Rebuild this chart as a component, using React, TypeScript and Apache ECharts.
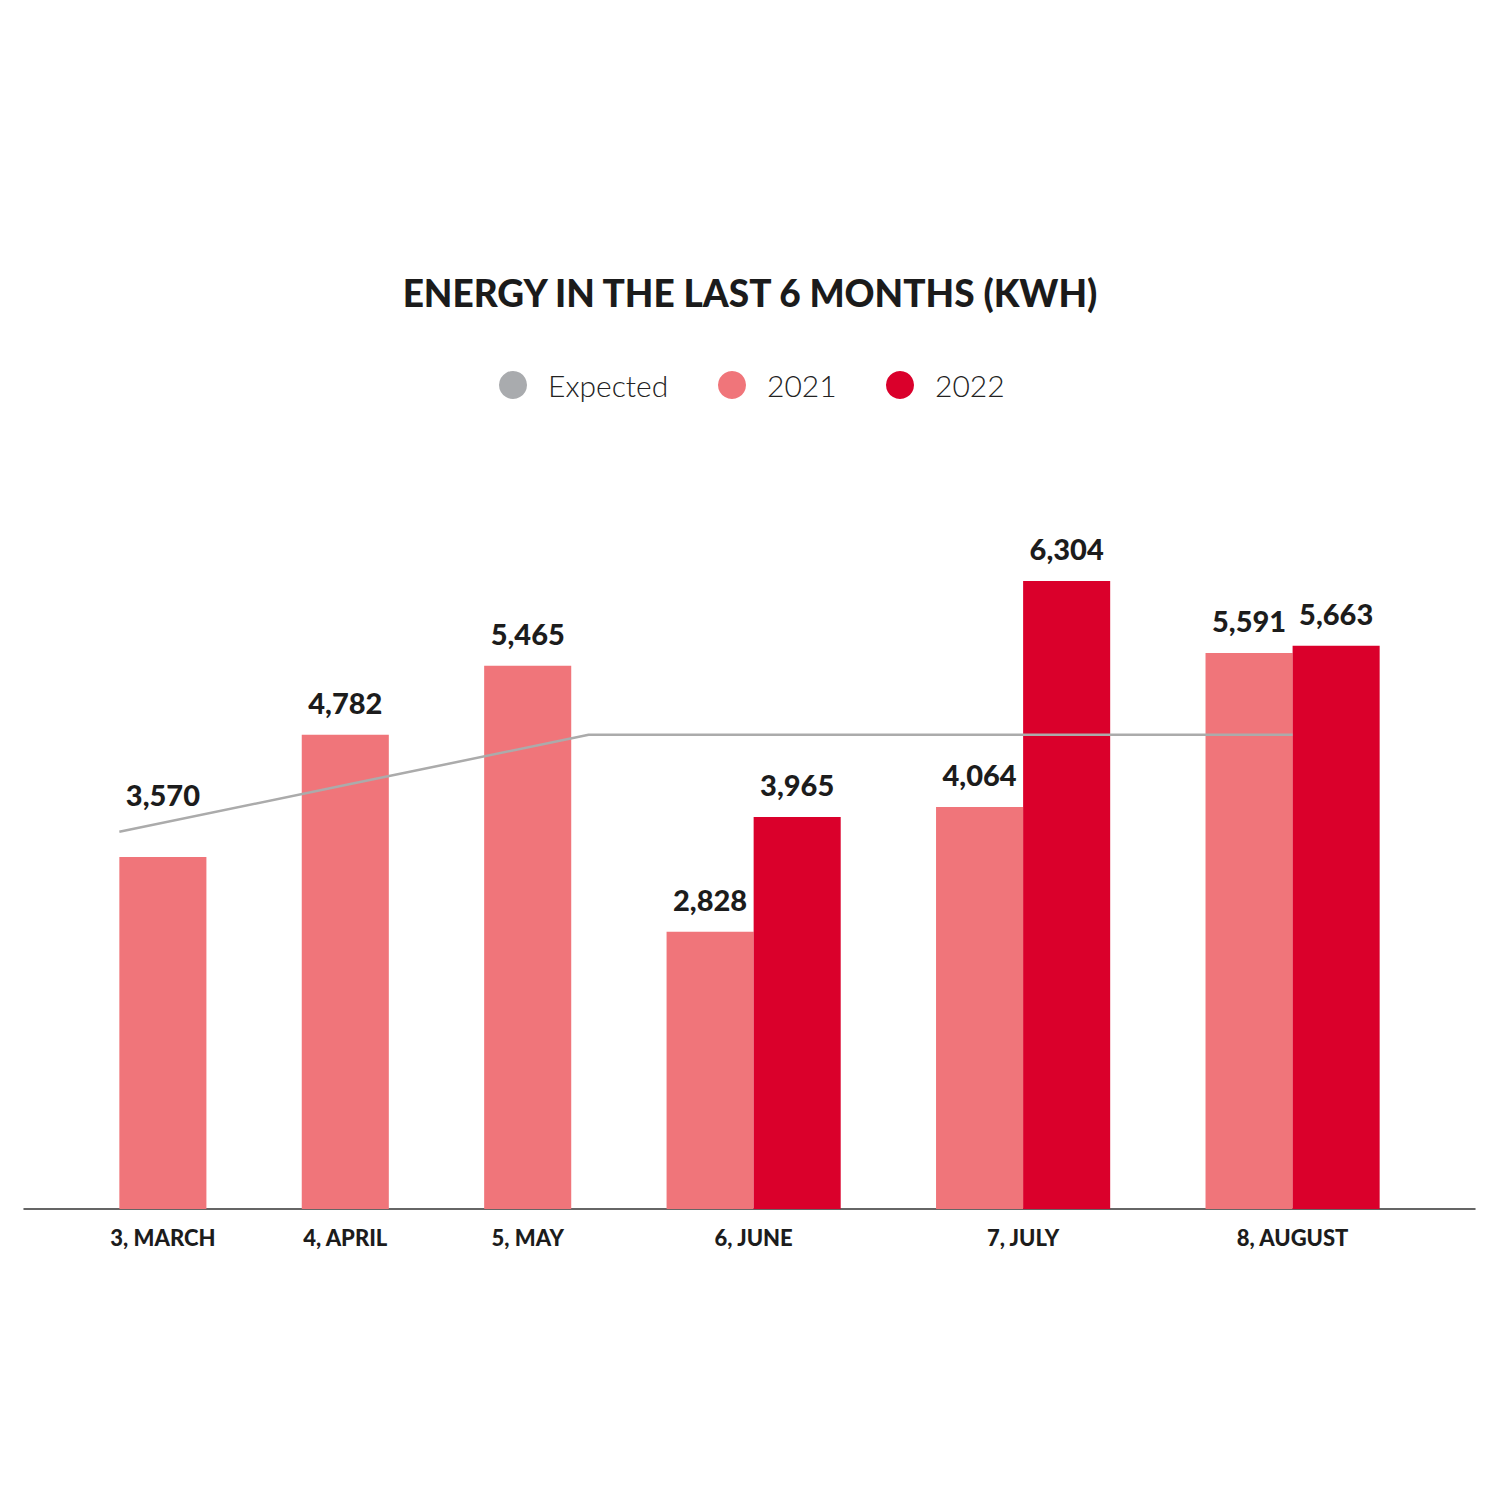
import React, { useEffect, useRef } from "react";
import * as echarts from "echarts";

const CATEGORIES = ["3, MARCH", "4, APRIL", "5, MAY", "6, JUNE", "7, JULY", "8, AUGUST"];
const SERIES_2021 = [3570, 4782, 5465, 2828, 4064, 5591];
const SERIES_2022: (number | null)[] = [null, null, null, 3965, 6304, 5663];
const EXPECTED = [3820, 4300, 4780, 4780, 4780, 4780];

const TITLE = "ENERGY IN THE LAST 6 MONTHS (KWH)";
const LEGEND_NAMES = ["Expected", "2021", "2022"];

const W = 1500;
const H = 1500;
const GRID_LEFT = 24;
const GRID_RIGHT = 25;
const GRID_TOP = 410;
const GRID_BOTTOM = 291;
const Y_MIN = 80;
const Y_MAX = 8000;

const BAR = 1;
const GAP = 1.095;

const C2021 = "#F0757A";
const C2022 = "#DA002B";
const CEXP = "#A9ABAE";

const LEGEND_LEFTS = [499, 718, 886];

export default function App() {
  const ref = useRef<HTMLDivElement>(null);

  useEffect(() => {
    document.body.style.margin = "0";
    if (!ref.current) return;
    const chart = echarts.init(ref.current, null, { renderer: "svg" });

    const counts = SERIES_2022.map((v) => (v == null ? 1 : 2));
    const centers: number[] = [];
    let cursor = GAP;
    counts.forEach((n) => {
      centers.push(cursor + (n * BAR) / 2);
      cursor += n * BAR + GAP;
    });
    const total = cursor;
    const gridWidth = W - GRID_LEFT - GRID_RIGHT;
    const barPx = (gridWidth / total) * BAR;

    const expStart = centers[0] - BAR / 2;
    const expEnd = centers[centers.length - 1];
    const expStep = (expEnd - expStart) / (EXPECTED.length - 1);
    const expX = EXPECTED.map((_, i) => expStart + i * expStep);

    const nearest = (v: number) => {
      let best = 0;
      centers.forEach((c, i) => {
        if (Math.abs(c - v) < Math.abs(centers[best] - v)) best = i;
      });
      return best;
    };

    const labelStyle = {
      show: true,
      position: "top",
      distance: 18,
      fontFamily: "Lato",
      fontWeight: 900,
      fontSize: 29,
      color: "#1c1c1c",
      formatter: (p: any) => Number(p.value[1]).toLocaleString("en-US"),
    };

    const data2021 = SERIES_2021.map((v, i) => {
      const item: any = { value: [centers[i] - (counts[i] === 2 ? BAR / 2 : 0), v] };
      if (i === 0) item.label = { distance: 48 };
      return item;
    });
    const data2022: any[] = [];
    SERIES_2022.forEach((v, i) => {
      if (v != null) data2022.push({ value: [centers[i] + BAR / 2, v] });
    });

    const legends = LEGEND_NAMES.map((name, i) => ({
      top: 370,
      left: LEGEND_LEFTS[i],
      icon: "circle",
      itemWidth: 28,
      itemHeight: 28,
      padding: 0,
      data: [name],
      textStyle: {
        fontFamily: "Lato",
        fontWeight: 300,
        fontSize: 30,
        color: "#222222",
        padding: [0, 0, 0, 16],
      },
    }));

    chart.setOption({
      animation: false,
      backgroundColor: "#ffffff",
      title: {
        text: TITLE,
        left: "center",
        top: 269,
        textStyle: {
          fontFamily: "Lato",
          fontWeight: 900,
          fontSize: 37,
          color: "#1b1b1b",
        },
      },
      legend: legends,
      grid: {
        left: GRID_LEFT,
        right: GRID_RIGHT,
        top: GRID_TOP,
        bottom: GRID_BOTTOM,
        containLabel: false,
        outerBoundsMode: "none",
      },
      xAxis: {
        type: "value",
        min: 0,
        max: total,
        splitLine: { show: false },
        axisTick: { show: false },
        axisLine: { show: true, onZero: false, lineStyle: { color: "#333333", width: 1.5 } },
        axisLabel: {
          customValues: centers,
          formatter: (v: number) => CATEGORIES[nearest(v)],
          fontFamily: "Lato",
          fontWeight: 900,
          fontSize: 22,
          color: "#1c1c1c",
          margin: 17,
          showMinLabel: true,
          showMaxLabel: true,
        },
      },
      yAxis: {
        type: "value",
        min: Y_MIN,
        max: Y_MAX,
        show: false,
        splitLine: { show: false },
      },
      series: [
        {
          name: "Expected",
          type: "line",
          data: EXPECTED.map((v, i) => [expX[i], v]),
          symbol: "none",
          z: 5,
          itemStyle: { color: CEXP },
          lineStyle: { color: "#ABABAB", width: 2.5 },
        },
        {
          name: "2021",
          type: "bar",
          data: data2021,
          barWidth: barPx,
          barGap: "-100%",
          itemStyle: { color: C2021 },
          label: labelStyle,
          z: 2,
        },
        {
          name: "2022",
          type: "bar",
          data: data2022,
          barWidth: barPx,
          barGap: "-100%",
          itemStyle: { color: C2022 },
          label: labelStyle,
          z: 2,
        },
      ],
    });

    return () => chart.dispose();
  }, []);

  return <div ref={ref} style={{ width: W, height: H }} />;
}
